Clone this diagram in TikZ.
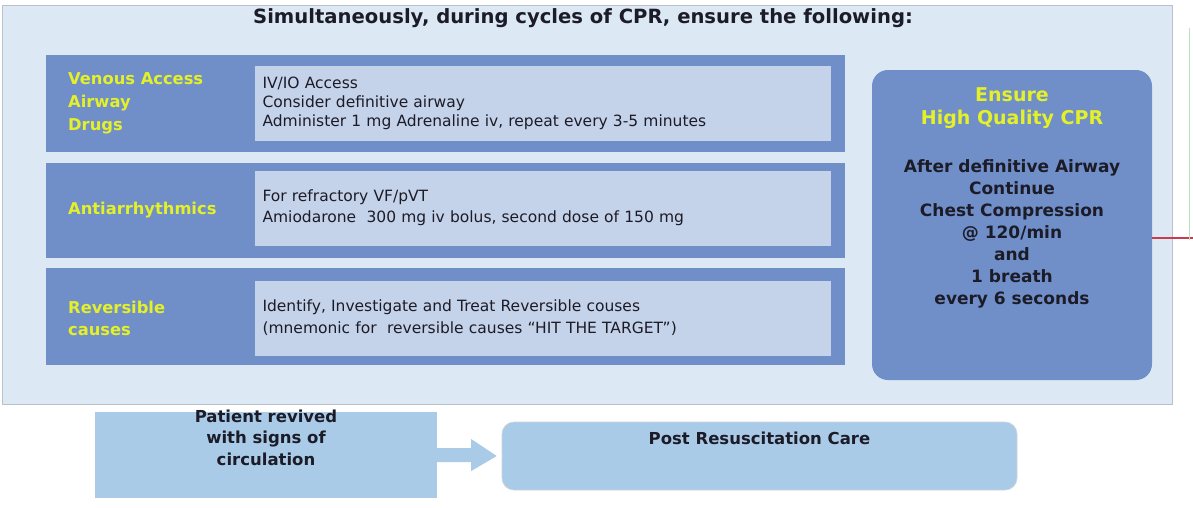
\documentclass[tikz,border=0pt]{standalone}
\usepackage{fontspec}
\setmainfont{DejaVu Sans}
\usetikzlibrary{calc}
\definecolor{panelfill}{RGB}{220,233,245}
\definecolor{panelline}{RGB}{185,194,204}
\definecolor{rowblue}{RGB}{112,143,201}
\definecolor{innerfill}{RGB}{197,211,234}
\definecolor{labelyellow}{RGB}{228,240,40}
\definecolor{darktext}{RGB}{28,28,40}
\definecolor{lightbox}{RGB}{170,203,232}
\definecolor{stubred}{RGB}{200,60,80}
\definecolor{stubgreen}{RGB}{190,225,190}
\tikzset{
  rowbox/.style={fill=rowblue, draw=none, minimum width=799pt, inner sep=0pt},
  innerbox/.style={fill=innerfill, draw=none, minimum width=575pt, minimum height=75pt,
    text width=560pt, inner xsep=8pt, align=left, font=\fontsize{15.5}{19}\selectfont, text=darktext},
  rowlabel/.style={anchor=west, align=left, text=labelyellow, font=\bfseries\fontsize{16.3}{22}\selectfont, inner sep=0pt},
  darkbold/.style={text=darktext, font=\bfseries\fontsize{17}{22}\selectfont, align=center},
}
\begin{document}
\begin{tikzpicture}[x=1pt,y=-1pt]
\useasboundingbox (0,0) rectangle (1193,507);
\fill[white] (0,0) rectangle (1193,507);

% outer panel
\node[fill=panelfill, draw=panelline, line width=1pt, minimum width=1170pt, minimum height=399pt, inner sep=0pt]
  (panel) at (587,204.5) {};
\node[text=darktext, font=\bfseries\fontsize{19.6}{22}\selectfont] (title) at (583,18)
  {Simultaneously, during cycles of CPR, ensure the following:};

% three treatment rows
\node[rowbox, minimum height=97pt] (row1) at (445.5,103.5) {};
\node[rowbox, minimum height=95pt] (row2) at (445.5,210.5) {};
\node[rowbox, minimum height=97pt] (row3) at (445.5,316.5) {};

\node[innerbox] (in1) at (542.5,103.5)
  {IV/IO Access\\Consider definitive airway\\Administer 1 mg Adrenaline iv, repeat every 3-5 minutes};
\node[innerbox, font=\fontsize{15.5}{21}\selectfont] (in2) at (542.5,208)
  {For refractory VF/pVT\\Amiodarone\ \ 300 mg iv bolus, second dose of 150 mg};
\node[innerbox, font=\fontsize{15.5}{22}\selectfont] (in3) at (542.5,318)
  {Identify, Investigate and Treat Reversible couses\\(mnemonic for\ \ reversible causes ``HIT THE TARGET'')};

\node[rowlabel, font=\bfseries\fontsize{16.3}{23}\selectfont] (lab1) at (68,103)
  {Venous Access\\Airway\\Drugs};
\node[rowlabel] (lab2) at (68,210) {Antiarrhythmics};
\node[rowlabel] (lab3) at (68,318) {Reversible\\causes};

% high quality CPR box
\node[fill=rowblue, draw=none, rounded corners=16pt, minimum width=280pt, minimum height=310pt, inner sep=0pt]
  (cpr) at (1012,225) {};
\node[text=labelyellow, font=\bfseries\fontsize{19}{23}\selectfont, align=center, anchor=north] (cprhead) at (1012,84)
  {Ensure\\High Quality CPR};
\node[darkbold, anchor=north] (cprtext) at (1012,156)
  {After definitive\ Airway\\Continue\\Chest Compression\\@ 120/min\\and\\1 breath\\every 6 seconds};

% stubs leaving the right edge
\coordinate (stubR) at (1193,238);
\draw[stubred, line width=1.2pt] ($(cpr.east)+(0,13)$) -- (stubR);
\coordinate (gTop) at (1189,28);
\coordinate (gBot) at (1189,240);
\draw[stubgreen, line width=0.8pt] (gTop) -- (gBot);

% bottom row
\node[fill=lightbox, draw=none, minimum width=342pt, minimum height=86pt, inner sep=0pt] (revived) at (266,455) {};
\node[darkbold, font=\bfseries\fontsize{16.5}{21.5}\selectfont, anchor=north] (revtext) at (266,406)
  {Patient revived\\with signs of\\circulation};
\node[fill=lightbox, draw=panelline!70, line width=0.6pt, rounded corners=12pt, minimum width=515pt, minimum height=68pt, inner sep=0pt]
  (post) at (759.5,456) {};
\node[darkbold, font=\bfseries\fontsize{16.5}{20}\selectfont, anchor=north] (posttext) at (759.5,428) {Post Resuscitation Care};

% block arrow between the two bottom boxes
\fill[lightbox] ($(revived.east)+(0,-7)$) -- ++(34,0) -- ++(0,-9) -- ($(post.west)+(-5,0)$)
  -- ($(revived.east)+(34,16)$) -- ++(0,-9) -- ($(revived.east)+(0,7)$) -- cycle;
\end{tikzpicture}
\end{document}
